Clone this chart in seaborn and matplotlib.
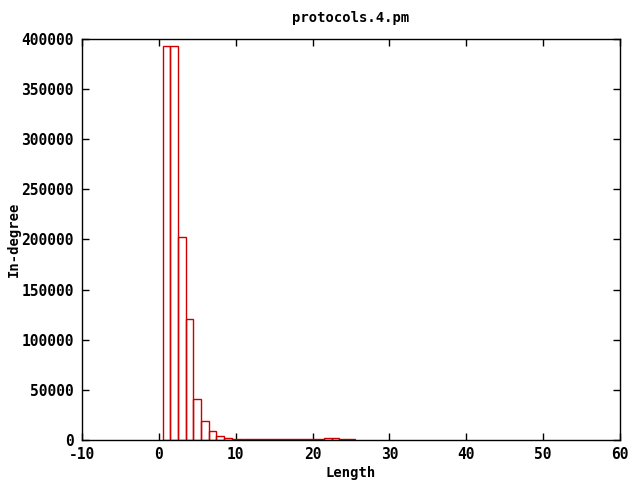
import numpy as np
import pandas as pd
import matplotlib
matplotlib.use("Agg")
import matplotlib.pyplot as plt
import seaborn as sns

# ----------------- Data -----------------
lengths = list(range(1, 26))
in_degree = [393000, 393000, 202800, 120400, 40600, 19000, 8800, 4000, 1700, 1000,
             800, 700, 700, 600, 600, 600, 500, 500, 500, 600,
             800, 2000, 2000, 700, 700]
x_ticks = [-10, 0, 10, 20, 30, 40, 50, 60]
y_ticks = [0, 50000, 100000, 150000, 200000, 250000, 300000, 350000, 400000]

sns.set_style("ticks")
plt.rcParams["font.family"] = ["DejaVu Sans Mono"]
plt.rcParams["font.weight"] = "bold"
plt.rcParams["axes.unicode_minus"] = False
plt.rcParams["text.color"] = "black"
plt.rcParams["axes.labelcolor"] = "black"

df = pd.DataFrame({"Length": lengths, "In-degree": in_degree})

fig = plt.figure(figsize=(6.4, 4.8), dpi=100)
ax = fig.add_axes([82 / 640, 1 - 440 / 480, (620 - 82) / 640, (440 - 39) / 480])

sns.histplot(data=df, x="Length", weights="In-degree", discrete=True,
             fill=False, element="bars", color="#cc0000", linewidth=1.0, ax=ax)

ax.set_xlim(-10, 60)
ax.set_ylim(0, 400000)
ax.set_xticks(x_ticks)
ax.set_yticks(y_ticks)
ax.tick_params(direction="in", length=5, width=1, top=True, right=True,
               labelsize=10.5, colors="black")
ax.tick_params(axis="y", pad=6)
ax.tick_params(axis="x", pad=5)
for lab in ax.get_xticklabels() + ax.get_yticklabels():
    lab.set_fontweight("bold")
for sp in ax.spines.values():
    sp.set_linewidth(1.0)
    sp.set_color("black")

ax.set_xlabel("Length", fontsize=10, fontweight="bold", va="center")
ax.set_ylabel("In-degree", fontsize=10, fontweight="bold", va="center")
ax.xaxis.set_label_coords(0.5, (440 - 473) / 401)
ax.yaxis.set_label_coords((14 - 82) / 538, 0.5)
ax.set_title("protocols.4.pm", fontsize=10, fontweight="bold", pad=12, color="black")

fig.savefig("out.png", dpi=100)
